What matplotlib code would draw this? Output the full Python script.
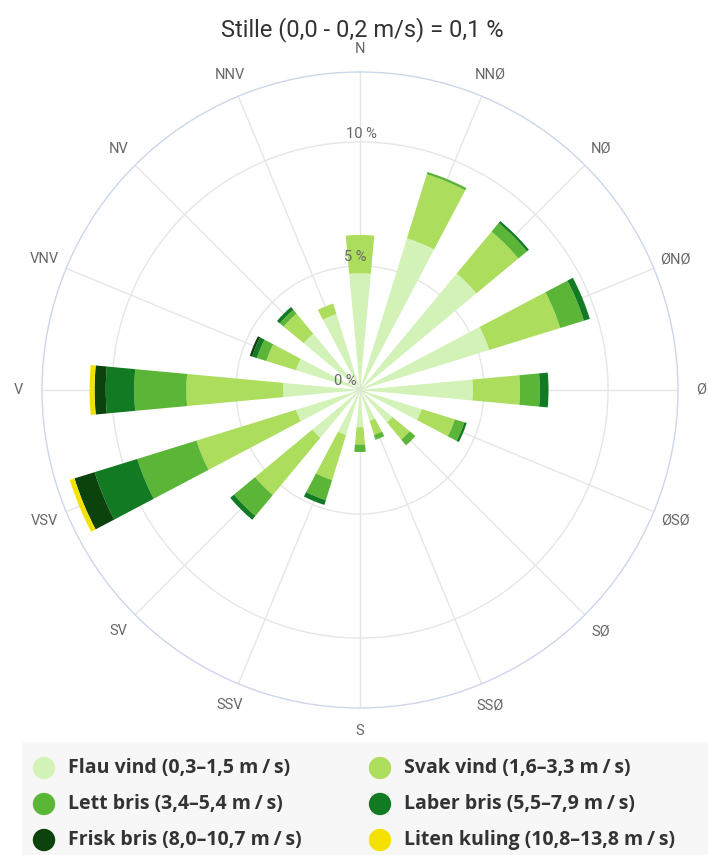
import numpy as np
import matplotlib
matplotlib.use("Agg")
import matplotlib.pyplot as plt

plt.rcParams["font.family"] = ["Roboto", "DejaVu Sans"]

# wind rose data, % of time per direction and wind class
directions = ["N", "NNØ", "NØ", "ØNØ", "Ø", "ØSØ", "SØ", "SSØ",
              "S", "SSV", "SV", "VSV", "V", "VNV", "NV", "NNV"]
flau = [4.7, 6.4, 6.1, 5.45, 4.55, 2.6, 1.7, 1.3, 1.5, 1.9, 2.5, 2.7, 3.1, 2.7, 2.95, 3.2]
svak = [1.55, 2.7, 2.2, 3.0, 1.9, 1.4, 0.9, 0.6, 0.7, 1.9, 3.0, 4.2, 3.9, 1.25, 1.05, 0.45]
lett = [0.0, 0.1, 0.45, 1.0, 0.8, 0.4, 0.3, 0.2, 0.3, 0.85, 1.1, 2.5, 2.1, 0.4, 0.2, 0.0]
laber = [0.0, 0.0, 0.1, 0.25, 0.35, 0.1, 0.0, 0.0, 0.0, 0.2, 0.2, 1.8, 1.15, 0.2, 0.15, 0.0]
frisk = [0.0, 0.0, 0.0, 0.0, 0.0, 0.0, 0.0, 0.0, 0.0, 0.0, 0.0, 0.85, 0.45, 0.1, 0.0, 0.0]
liten = [0.0, 0.0, 0.0, 0.0, 0.0, 0.0, 0.0, 0.0, 0.0, 0.0, 0.0, 0.2, 0.2, 0.0, 0.0, 0.0]

TS = "\u2009"  # thin space, legend units are spaced out in the original
class_labels = [f"Flau vind (0,3–1,5 m{TS}/{TS}s)", f"Svak vind (1,6–3,3 m{TS}/{TS}s)",
                f"Lett bris (3,4–5,4 m{TS}/{TS}s)", f"Laber bris (5,5–7,9 m{TS}/{TS}s)",
                f"Frisk bris (8,0–10,7 m{TS}/{TS}s)", f"Liten kuling (10,8–13,8 m{TS}/{TS}s)"]
class_colors = ["#d2f2b8", "#addd5c", "#5bb536", "#117a22", "#0c420c", "#f3e200"]
series = [flau, svak, lett, laber, frisk, liten]

radial_ticks = [0, 5, 10]
title = "Stille (0,0 - 0,2 m/s) = 0,1 %"

GRID = "#e6e6e6"
OUTER = "#ccd6eb"
LABEL = "#666666"
TEXT = "#333333"
R_MAX = 12.82

fig = plt.figure(figsize=(7.08, 8.55), dpi=100)
ax = fig.add_axes([42 / 708, 147 / 855, 636 / 708, 636 / 855], projection="polar")
ax.set_theta_zero_location("N")
ax.set_theta_direction(-1)
ax.set_ylim(0, R_MAX)
ax.grid(False)
ax.set_xticks([])
ax.set_yticks([])
ax.spines["polar"].set_color(OUTER)
ax.spines["polar"].set_linewidth(1.0)

theta = np.deg2rad(np.arange(len(directions)) * 22.5)

# grid: spokes and rings
for t in theta:
    ax.plot([t, t], [0, R_MAX], color=GRID, lw=1, zorder=1)
ring_t = np.linspace(0, 2 * np.pi, 400)
for r in radial_ticks[1:]:
    ax.plot(ring_t, np.full_like(ring_t, r), color=GRID, lw=1, zorder=1)

# stacked bars
bottom = np.zeros(len(directions))
for vals, color in zip(series, class_colors):
    vals = np.array(vals)
    ax.bar(theta, vals, width=0.185, bottom=bottom, color=color,
           edgecolor="none", linewidth=0, zorder=3)
    bottom += vals

# radial labels
offsets = {0: (-15, 9), 5: (-5, 9), 10: (1, 8)}
for r in radial_ticks:
    ax.annotate(f"{r} %", xy=(0, r), xytext=offsets[r], textcoords="offset pixels",
                ha="center", va="center", fontsize=10.5, color=LABEL, zorder=5)

# direction labels
for t, name in zip(theta, directions):
    ax.text(t, 13.75, name, ha="center", va="center", fontsize=10.5,
            color=LABEL, clip_on=False)

fig.text(362 / 708, 1 - 30 / 855, title, ha="center", va="center",
         fontsize=17, color=TEXT)

# legend panel
leg = fig.add_axes([22 / 708, 0, 686 / 708, 113 / 855])
leg.set_facecolor("#f7f7f7")
leg.set_xlim(0, 686)
leg.set_ylim(113, 0)
leg.set_xticks([])
leg.set_yticks([])
for s in leg.spines.values():
    s.set_visible(False)
for i, (lab, col) in enumerate(zip(class_labels, class_colors)):
    row, c = divmod(i, 2)
    x0 = 22 if c == 0 else 358
    y0 = 26 + row * 36
    leg.scatter([x0], [y0], s=260, color=col, edgecolor="none")
    leg.text(x0 + 24, y0, lab, ha="left", va="center", fontsize=14,
             fontweight="bold", color=TEXT, family=["Open Sans", "DejaVu Sans"])

fig.savefig("out.png", dpi=100)
